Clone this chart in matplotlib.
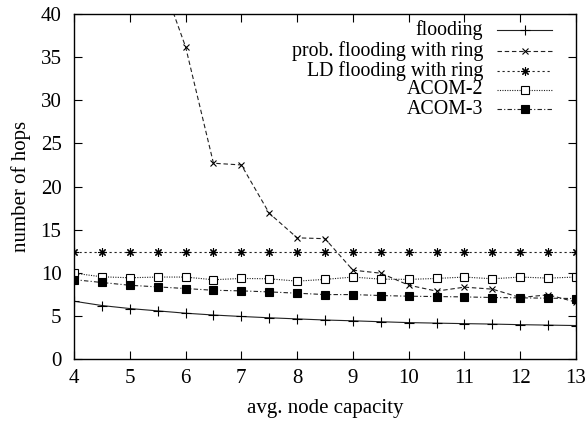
import matplotlib
matplotlib.use("Agg")
import matplotlib.pyplot as plt
from matplotlib.lines import Line2D

plt.rcParams['font.family'] = ['Liberation Serif', 'DejaVu Serif']

capacity = [4, 4.5, 5, 5.5, 6, 6.5, 7, 7.5, 8, 8.5, 9, 9.5, 10, 10.5, 11, 11.5, 12, 12.5, 13]

flooding = [6.7, 6.2, 5.85, 5.58, 5.31, 5.1, 4.93, 4.78, 4.65, 4.52, 4.43, 4.32,
            4.22, 4.16, 4.1, 4.05, 3.98, 3.93, 3.88]
prob_ring_x = [5.5, 6, 6.5, 7, 7.5, 8, 8.5, 9, 9.5, 10, 10.5, 11, 11.5, 12, 12.5, 13]
prob_ring = [45.2, 36.2, 22.7, 22.5, 16.9, 14.05, 13.95, 10.3, 9.95, 8.56, 7.87,
             8.33, 8.1, 7.13, 7.44, 6.6]
ld_ring = [12.4] * len(capacity)
acom2 = [9.95, 9.53, 9.42, 9.5, 9.5, 9.19, 9.34, 9.3, 9.03, 9.23, 9.5, 9.26,
         9.23, 9.34, 9.5, 9.3, 9.5, 9.38, 9.5]
acom3 = [9.2, 8.87, 8.55, 8.36, 8.17, 7.97, 7.9, 7.78, 7.63, 7.47, 7.47, 7.36,
         7.28, 7.24, 7.2, 7.13, 7.09, 7.05, 7.01]

labels = ["flooding", "prob. flooding with ring", "LD flooding with ring",
          "ACOM-2", "ACOM-3"]

fig = plt.figure(figsize=(5.86, 4.25), dpi=100)
ax = fig.add_axes([0.1263, 0.1553, 0.8567, 0.8117])

lc = '#222222'
lw = 0.8
fs = 15
styles = [
    dict(ls='-', marker='+', ms=7, mew=0.8),
    dict(ls=(0, (4, 2.5)), marker='x', ms=5, mew=0.8),
    dict(ls=(0, (2, 2.5)), marker=(8, 2, 0), ms=6, mew=0.8),
    dict(ls=(0, (1, 1.2)), marker='s', ms=5.5, mew=0.8, mfc='white'),
    dict(ls=(0, (4, 2, 1, 2)), marker='s', ms=5.5, mew=0.8, mfc='black'),
]

series = [(capacity, flooding), (prob_ring_x, prob_ring), (capacity, ld_ring),
          (capacity, acom2), (capacity, acom3)]

for (xs, ys), st in zip(series, styles):
    ax.plot(xs, ys, color=lc, lw=lw, mec='black', clip_on=True, **st)

ax.set_xlim(4, 13)
ax.set_ylim(0, 40)
ax.set_xticks(range(4, 14))
ax.set_yticks(range(0, 41, 5))
ax.tick_params(direction='in', top=True, right=True, length=6, width=0.8,
               labelsize=fs)
ax.tick_params(axis='y', pad=9)
ax.tick_params(axis='x', pad=7)
for s in ax.spines.values():
    s.set_linewidth(1.0)
ax.set_xlabel("avg. node capacity", fontsize=fs, labelpad=8)
ax.set_ylabel("number of hops", fontsize=fs, labelpad=7)

# legend: right-aligned labels with sample lines to their right
row_y = [30, 51, 71, 89.5, 109]
W, H = 586, 425
for lab, st, yp in zip(labels, styles, row_y):
    yf = 1 - yp / H
    fig.text(483 / W, yf, lab, ha='right', va='center', fontsize=14.3)
    line = Line2D([497 / W, 552 / W], [yf, yf], transform=fig.transFigure,
                  color=lc, lw=lw, ls=st['ls'])
    fig.add_artist(line)
    mk = {k: v for k, v in st.items() if k != 'ls'}
    pt = Line2D([524.5 / W], [yf], transform=fig.transFigure, ls='none',
                mec='black', color=lc, **mk)
    fig.add_artist(pt)

fig.savefig("out.png", dpi=100)
